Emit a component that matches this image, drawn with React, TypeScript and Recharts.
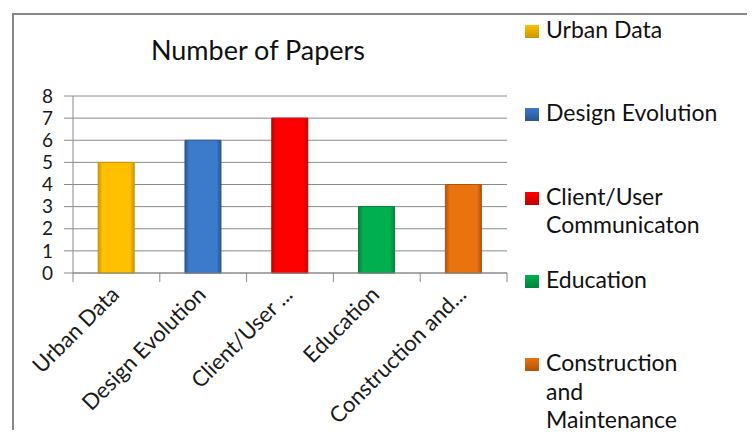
import React from 'react';
import { BarChart, Bar, Cell, XAxis, YAxis, CartesianGrid } from 'recharts';

const categories = [
  'Urban Data',
  'Design Evolution',
  'Client/User Communicaton',
  'Education',
  'Construction and Maintenance',
];
const tickLabels = ['Urban Data', 'Design Evolution', 'Client/User ...', 'Education', 'Construction and...'];
const paperCounts = [5, 6, 7, 3, 4];
const barColors = ['#FFC000', '#3C7BCB', '#FF0000', '#00B050', '#E8730F'];
const darkColors = ['#C89600', '#28558F', '#C00000', '#00803A', '#B0520A'];
const yTicks = [0, 1, 2, 3, 4, 5, 6, 7, 8];

const legendLines = [
  ['Urban Data'],
  ['Design Evolution'],
  ['Client/User', 'Communicaton'],
  ['Education'],
  ['Construction', 'and', 'Maintenance'],
];

const FONT = 'Lato, "Open Sans", sans-serif';
const GRID = '#8a8a8a';
const BAND = (507 - 73) / 5;

const data = categories.map((name, i) => ({ name, label: tickLabels[i], value: paperCounts[i] }));

function XTick(props: any) {
  const { x, y, payload, index } = props;
  const top = y - 8;
  const tx = x + 4;
  const ty = top + 23;
  return (
    <g>
      <line x1={x - BAND / 2} y1={top} x2={x - BAND / 2} y2={top + 9} stroke={GRID} />
      {index === data.length - 1 && (
        <line x1={x + BAND / 2} y1={top} x2={x + BAND / 2} y2={top + 9} stroke={GRID} />
      )}
      <text
        x={tx}
        y={ty}
        transform={`rotate(-45 ${tx} ${ty})`}
        textAnchor="end"
        fontSize={22}
        fontFamily={FONT}
        fill="#1a1a1a"
      >
        {tickLabels[index] ?? payload.value}
      </text>
    </g>
  );
}

export default function App() {
  return (
    <div style={{ position: 'relative', width: 755, height: 438, margin: -8, background: '#fff', overflow: 'hidden' }}>
      <div
        style={{
          position: 'absolute',
          left: 12,
          top: 13,
          width: 760,
          height: 440,
          borderTop: '2px solid #888',
          borderLeft: '2px solid #888',
        }}
      />
      <div
        style={{
          position: 'absolute',
          left: 58,
          width: 400,
          top: 33,
          textAlign: 'center',
          fontFamily: FONT,
          fontSize: 27,
          color: '#111',
        }}
      >
        Number of Papers
      </div>
      <div style={{ position: 'absolute', left: 0, top: 0 }}>
        <BarChart
          width={755}
          height={438}
          data={data}
          margin={{ top: 96, right: 248, bottom: 15, left: 13 }}
          barCategoryGap="29%"
        >
          <defs>
            {barColors.map((c, i) => (
              <linearGradient key={i} id={`bar${i}`} x1="0" y1="0" x2="1" y2="0">
                <stop offset="0%" stopColor={darkColors[i]} />
                <stop offset="12%" stopColor={c} />
                <stop offset="88%" stopColor={c} />
                <stop offset="100%" stopColor={darkColors[i]} />
              </linearGradient>
            ))}
          </defs>
          <CartesianGrid vertical={false} stroke={GRID} />
          <XAxis
            dataKey="name"
            height={150}
            stroke={GRID}
            tickLine={false}
            interval={0}
            tick={<XTick />}
          />
          <YAxis
            width={60}
            domain={[0, 8]}
            ticks={yTicks}
            interval={0}
            stroke={GRID}
            tickSize={9}
            tickMargin={11}
            tick={{ fontSize: 19, fontFamily: FONT, fill: '#1a1a1a' }}
          />
          <Bar dataKey="value" isAnimationActive={false}>
            {data.map((d, i) => (
              <Cell key={d.name} fill={`url(#bar${i})`} stroke={darkColors[i]} strokeWidth={1} />
            ))}
          </Bar>
        </BarChart>
      </div>
      <div style={{ position: 'absolute', left: 524, top: 15, fontFamily: FONT, fontSize: 23, color: '#111' }}>
        {legendLines.map((lines, i) => (
          <div key={i} style={{ position: 'absolute', top: i * 83.3, left: 0, width: 230 }}>
            <span
              style={{
                position: 'absolute',
                left: 1,
                top: 10,
                width: 14,
                height: 13,
                background: `linear-gradient(to bottom, ${barColors[i]}, ${darkColors[i]})`,
              }}
            />
            <div style={{ marginLeft: 22, lineHeight: '28.5px', whiteSpace: 'nowrap' }}>
              {lines.map((l) => (
                <div key={l}>{l}</div>
              ))}
            </div>
          </div>
        ))}
      </div>
    </div>
  );
}
